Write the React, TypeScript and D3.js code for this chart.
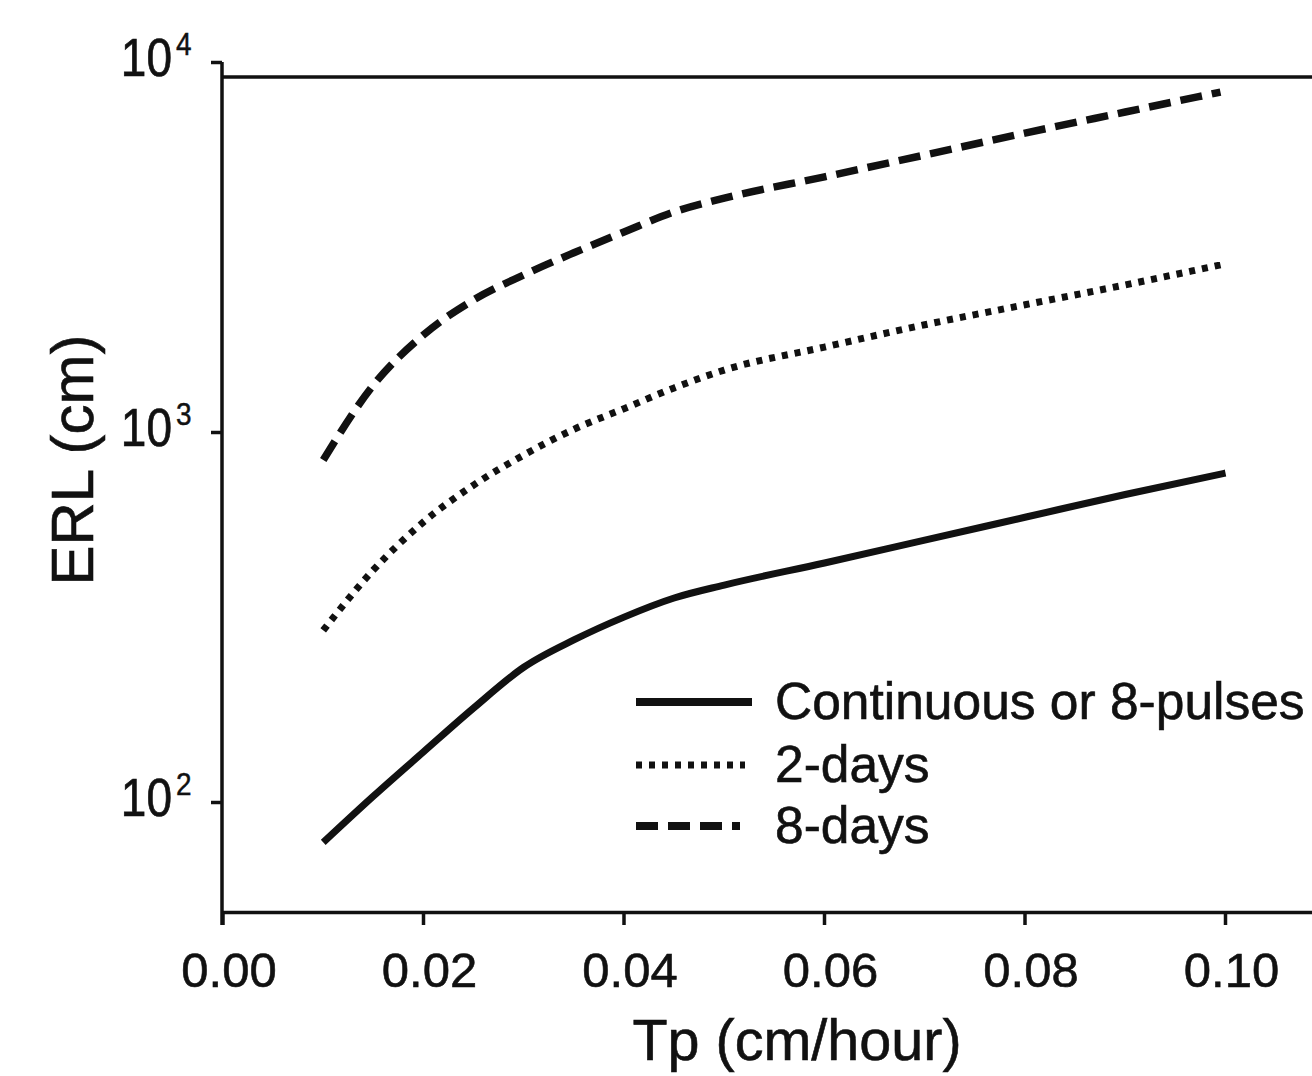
import React from "react";
import * as d3 from "d3";

const tp = [0.01, 0.015, 0.02, 0.025, 0.03, 0.035, 0.04, 0.045, 0.05, 0.06, 0.07, 0.08, 0.09, 0.0995];
const tpSolid = [0.01, 0.015, 0.02, 0.025, 0.03, 0.035, 0.04, 0.045, 0.05, 0.06, 0.07, 0.08, 0.09, 0.1];
const continuous = [78, 104, 137, 180, 232, 275, 317, 357, 387, 444, 512, 590, 680, 777];
const twoDays = [292, 425, 573, 721, 869, 1020, 1160, 1320, 1475, 1702, 1955, 2214, 2506, 2837];
const eightDays = [843, 1343, 1836, 2282, 2667, 3060, 3483, 3946, 4300, 4909, 5623, 6445, 7349, 8318];
const xTicks = [0, 0.02, 0.04, 0.06, 0.08, 0.1];
const yTicks = [100, 1000, 10000];
const legendLabels = ["Continuous or 8-pulses", "2-days", "8-days"];

const W = 1312;
const H = 1076;
const FONT = "'Liberation Sans', Arial, Helvetica, sans-serif";

export default function App() {
  const x = d3.scaleLinear().domain([0, 0.11]).range([223, 223 + 0.11 * 10025]);
  const y = d3.scaleLog().domain([100, 10000]).range([802.5, 62.5]);
  const yBottom = 912.5;
  const yTop = 77;
  const xLeft = 222;

  const line = (xs: number[], ys: number[]) =>
    d3
      .line<number>()
      .x((_, i) => x(xs[i]))
      .y((d) => y(d))
      .curve(d3.curveMonotoneX)(ys) || "";

  const series = [
    { xs: tpSolid, ys: continuous, dash: undefined as string | undefined, w: 7 },
    { xs: tp, ys: twoDays, dash: "6 7", w: 7 },
    { xs: tp, ys: eightDays, dash: "22 10", w: 7.5 },
  ];

  const legendY = [702, 765, 826];
  const legendLen = [116, 109, 104];

  return (
    <svg
      width={W}
      height={H}
      style={{ position: "absolute", left: 0, top: 0, background: "#fff" }}
      fontFamily={FONT}
    >
      {/* frame */}
      <line x1={xLeft} x2={W} y1={yTop} y2={yTop} stroke="#111" strokeWidth={3.5} />
      <line x1={xLeft} x2={W} y1={yBottom} y2={yBottom} stroke="#111" strokeWidth={3.5} />
      <line x1={xLeft} x2={xLeft} y1={62} y2={925} stroke="#111" strokeWidth={3.5} />

      {/* x ticks */}
      {xTicks.map((t) => (
        <g key={t}>
          <line x1={x(t)} x2={x(t)} y1={yBottom} y2={925} stroke="#111" strokeWidth={3.5} />
          <text
            x={x(t) + 6}
            y={987}
            textAnchor="middle"
            fontSize={49}
            fill="#111"
            stroke="#111"
            strokeWidth={0.6}
          >
            {t.toFixed(2)}
          </text>
        </g>
      ))}

      {/* y ticks */}
      {yTicks.map((t) => (
        <g key={t} transform={`translate(0,${y(t)})`}>
          <line x1={211} x2={xLeft} y1={0} y2={0} stroke="#111" strokeWidth={3.5} />
          <g transform="translate(0,13) scale(1,1.15)">
            <text x={172} y={0} textAnchor="end" fontSize={46} fill="#111" stroke="#111" strokeWidth={0.6}>
              10
            </text>
            <text x={176} y={-18} textAnchor="start" fontSize={28} fill="#111" stroke="#111" strokeWidth={0.4}>
              {Math.round(Math.log10(t))}
            </text>
          </g>
        </g>
      ))}

      {/* series */}
      {series.map((s, i) => (
        <path
          key={i}
          d={line(s.xs, s.ys)}
          fill="none"
          stroke="#111"
          strokeWidth={s.w}
          strokeDasharray={s.dash}
          strokeLinejoin="round"
        />
      ))}

      {/* legend */}
      {legendLabels.map((lab, i) => (
        <g key={lab}>
          <line
            x1={636}
            x2={636 + legendLen[i]}
            y1={legendY[i]}
            y2={legendY[i]}
            stroke="#111"
            strokeWidth={i === 1 ? 7 : 8}
            strokeDasharray={series[i].dash}
          />
          <text
            x={775}
            y={legendY[i] + 17}
            fontSize={51.5}
            fill="#111"
            stroke="#111"
            strokeWidth={0.6}
          >
            {lab}
          </text>
        </g>
      ))}

      {/* axis titles */}
      <text
        x={797}
        y={1060}
        textAnchor="middle"
        fontSize={57.5}
        fill="#111"
        stroke="#111"
        strokeWidth={0.6}
      >
        Tp (cm/hour)
      </text>
      <text
        transform="translate(93,460) rotate(-90)"
        textAnchor="middle"
        fontSize={60}
        fill="#111"
        stroke="#111"
        strokeWidth={0.6}
      >
        ERL (cm)
      </text>
    </svg>
  );
}
